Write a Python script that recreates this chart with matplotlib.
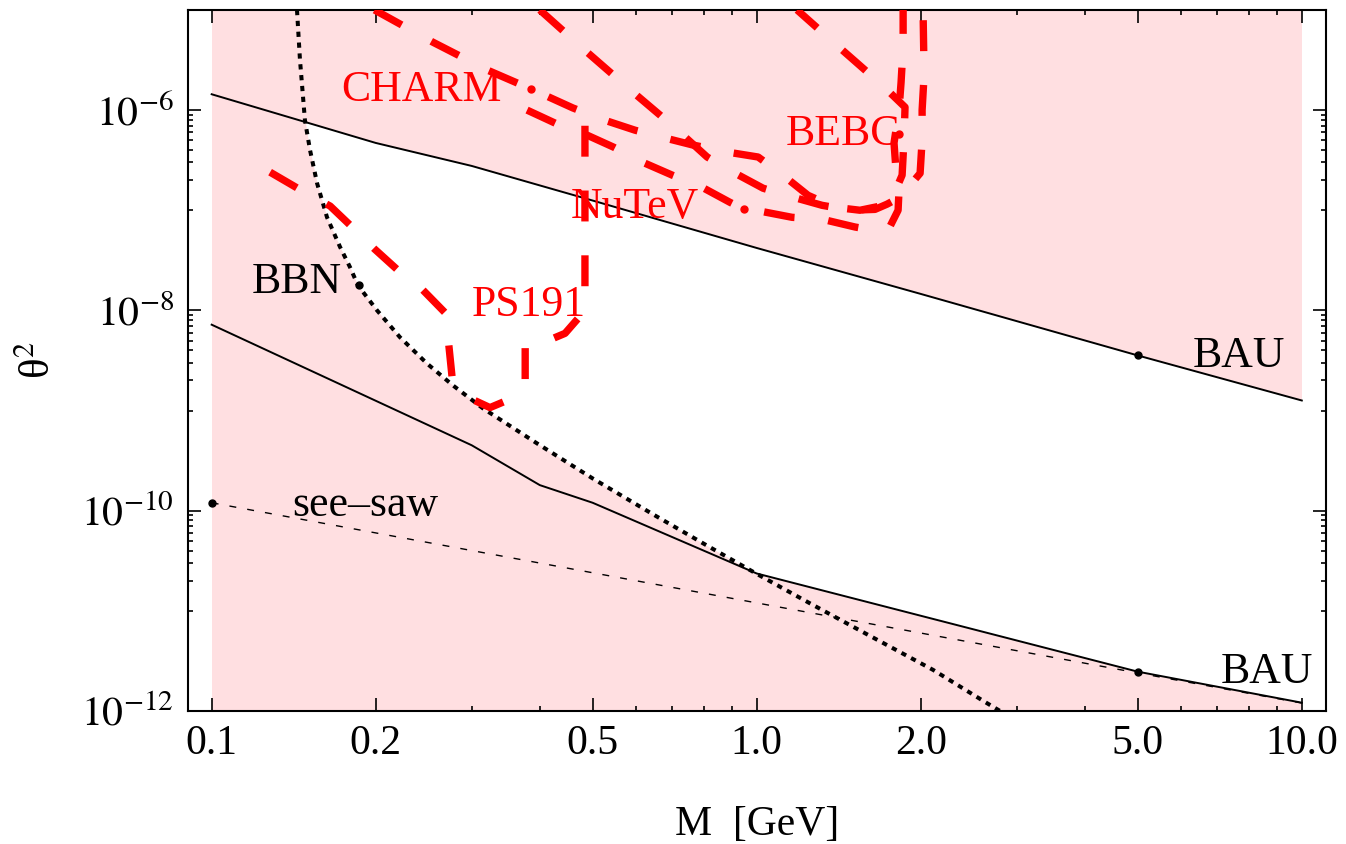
import matplotlib
matplotlib.use("Agg")
import matplotlib.pyplot as plt
import numpy as np
from matplotlib.ticker import FixedLocator, FixedFormatter, NullFormatter

plt.rcParams['font.family'] = ['Liberation Serif', 'DejaVu Serif']
plt.rcParams['mathtext.fontset'] = 'stix'

PINK = '#ffdfe1'
RED = '#ff0000'

# baryon asymmetry bounds (upper and lower branch)
bau_up_m = [0.1, 0.2, 0.3, 0.5, 1.0, 2.0, 5.0, 10.0]
bau_up_t = [1.44e-6, 4.7e-7, 2.77e-7, 1.25e-7, 4.2e-8, 1.46e-8, 3.55e-9, 1.26e-9]
bau_lo_m = [0.1, 0.3, 0.4, 0.5, 1.0, 5.0, 10.0]
bau_lo_t = [7.2e-9, 4.5e-10, 1.8e-10, 1.2e-10, 2.36e-11, 2.47e-12, 1.21e-12]

# see-saw line
seesaw_m = [0.1, 10.0]
seesaw_t = [1.2e-10, 1.2e-12]

# BBN bound
bbn_m = [0.1434, 0.1452, 0.1483, 0.1515, 0.1561, 0.1628, 0.1720, 0.1794, 0.1855,
         0.2011, 0.2215, 0.2483, 0.2772, 0.3147, 0.3953, 0.5, 0.643, 0.804,
         1.0, 1.248, 1.587, 2.107, 2.623, 2.84]
bbn_t = [1e-5, 3.2e-6, 7.9e-7, 4.0e-7, 1.86e-7, 8.5e-8, 4.3e-8, 2.7e-8, 1.78e-8,
         1.0e-8, 5.4e-9, 2.95e-9, 1.78e-9, 1.05e-9, 4.7e-10, 2.1e-10, 9.3e-11, 4.6e-11,
         2.34e-11, 1.2e-11, 5.9e-12, 2.57e-12, 1.23e-12, 9.5e-13]

# experimental limits
charm_m = [0.199, 0.254, 0.321, 0.386, 0.460, 0.527, 0.598, 0.685, 0.761, 0.886,
           1.006, 1.117, 1.242, 1.392, 1.547, 1.684, 1.779, 1.848, 1.864, 1.871,
           1.698, 1.528, 1.380, 1.186]
charm_t = [1e-5, 4.8e-6, 2.5e-6, 1.62e-6, 1.05e-6, 7.9e-7, 6.3e-7, 5.2e-7, 4.5e-7, 3.8e-7,
           3.4e-7, 2.24e-7, 1.41e-7, 1.07e-7, 1.0e-7, 1.10e-7, 1.38e-7, 2.24e-7, 5.4e-7, 1.07e-6,
           1.78e-6, 2.95e-6, 4.8e-6, 1e-5]

nutev_m = [0.379, 0.427, 0.484, 0.546, 0.619, 0.700, 0.787, 0.893, 0.948, 1.014,
           1.161, 1.323, 1.515, 1.671, 1.756, 1.817, 1.824, 1.801, 1.786, 1.824,
           1.840, 1.856, 1.856]
nutev_t = [1.0e-6, 7.4e-7, 5.75e-7, 4.27e-7, 3.0e-7, 2.24e-7, 1.74e-7, 1.20e-7, 1.02e-7, 9.8e-8,
           8.5e-8, 8.1e-8, 6.8e-8, 6.2e-8, 6.9e-8, 1.0e-7, 1.58e-7, 2.5e-7, 4.7e-7, 1.0e-6,
           1.9e-6, 4.3e-6, 1e-5]

bebc_m = [0.400, 0.488, 0.593, 0.665, 0.733, 0.811, 0.913, 1.027, 1.166, 1.318,
          1.483, 1.648, 1.734, 1.832, 1.994, 2.011, 2.011, 2.028, 2.019]
bebc_t = [1e-5, 3.8e-6, 1.51e-6, 8.9e-7, 5.6e-7, 3.4e-7, 2.34e-7, 1.66e-7, 1.35e-7, 1.12e-7,
          1.0e-7, 1.02e-7, 1.15e-7, 1.35e-7, 2.34e-7, 5.0e-7, 1.0e-6, 2.24e-6, 1e-5]

ps191_m = [0.128, 0.146, 0.165, 0.181, 0.199, 0.220, 0.244, 0.269, 0.272, 0.276,
           0.300, 0.324, 0.348, 0.376, 0.376, 0.381, 0.414, 0.445, 0.470, 0.484, 0.484]
ps191_t = [2.4e-7, 1.58e-7, 1.10e-7, 6.8e-8, 4.1e-8, 2.5e-8, 1.6e-8, 9.3e-9, 4.8e-9, 2.2e-9,
           1.3e-9, 1.07e-9, 1.26e-9, 1.8e-9, 4.2e-9, 4.9e-9, 5.0e-9, 5.9e-9, 8.3e-9, 1.4e-8, 1.2e-6]

# labels: text, position, anchor dot, colour
labels = [
    ('CHARM', 0.243, 1.58e-6, 0.3855, 1.62e-6, RED),
    ('NuTeV', 0.598, 1.07e-7, 0.948, 1.02e-7, RED),
    ('BEBC', 1.44, 5.75e-7, 1.824, 5.75e-7, RED),
    ('PS191', 0.382, 1.12e-8, None, None, RED),
    ('BBN', 0.1434, 1.9e-8, 0.1864, 1.78e-8, 'black'),
    ('see\u2013saw', 0.191, 1.15e-10, 0.1, 1.2e-10, 'black'),
    ('BAU', 7.65, 3.47e-9, 5.0, 3.55e-9, 'black'),
    ('BAU', 8.64, 2.45e-12, 5.0, 2.47e-12, 'black'),
]

x_major = [0.1, 0.2, 0.5, 1.0, 2.0, 5.0, 10.0]
x_major_labels = ['0.1', '0.2', '0.5', '1.0', '2.0', '5.0', '10.0']
x_minor = [0.3, 0.4, 0.6, 0.7, 0.8, 0.9, 3, 4, 6, 7, 8, 9]
y_major = [1e-12, 1e-10, 1e-8, 1e-6]
y_major_labels = ['$10^{-12}$', '$10^{-10}$', '$10^{-8}$', '$10^{-6}$']
y_minor = [k * 10.0 ** n for n in (-11, -9, -7) for k in range(1, 10)]

fig = plt.figure(figsize=(13.46, 8.44), dpi=100)
ax = fig.add_axes([0.1397, 0.1576, 0.8455, 0.8306])
ax.set_xscale('log')
ax.set_yscale('log')
ax.set_xlim(0.0905, 11.08)
ax.set_ylim(1e-12, 1e-5)

# shaded (excluded) area with the allowed window cut out in white
ax.fill_between([0.1, 10.0], 1e-12, 1e-5, color=PINK, lw=0, zorder=0)
grid = np.logspace(-1, 1, 2000)
lg = np.log10(grid)
up = 10 ** np.interp(lg, np.log10(bau_up_m), np.log10(bau_up_t))
lo_bau = 10 ** np.interp(lg, np.log10(bau_lo_m), np.log10(bau_lo_t))
lo_bbn = 10 ** np.interp(lg, np.log10(bbn_m), np.log10(bbn_t), left=0.0)
lo = np.maximum(lo_bau, lo_bbn)
ax.fill_between(grid, lo, up, where=up > lo, color='white', lw=0, zorder=1,
                interpolate=True)

ax.plot(bau_up_m, bau_up_t, color='black', lw=1.4, zorder=3)
ax.plot(bau_lo_m, bau_lo_t, color='black', lw=1.4, zorder=3)
ax.plot(seesaw_m, seesaw_t, color='black', lw=1.0, ls=(0, (5, 8)), zorder=3)
ax.plot(bbn_m, bbn_t, color='black', lw=2.9, ls=(0, (1.3, 1.4)), zorder=3)

for m, t in [(charm_m, charm_t), (nutev_m, nutev_t), (bebc_m, bebc_t), (ps191_m, ps191_t)]:
    ax.plot(m, t, color=RED, lw=5.3, ls=(0, (4.2, 4.6)), zorder=4)

for text, tx, ty, dx, dy, col in labels:
    ax.text(tx, ty, text, color=col, fontsize=31.5, ha='center', va='center', zorder=5)
    if dx is not None:
        ax.plot(dx, dy, 'o', color=col, ms=5, zorder=5)

ax.xaxis.set_major_locator(FixedLocator(x_major))
ax.xaxis.set_major_formatter(FixedFormatter(x_major_labels))
ax.xaxis.set_minor_locator(FixedLocator(x_minor))
ax.xaxis.set_minor_formatter(NullFormatter())
ax.yaxis.set_major_locator(FixedLocator(y_major))
ax.yaxis.set_major_formatter(FixedFormatter(y_major_labels))
ax.yaxis.set_minor_locator(FixedLocator(y_minor))
ax.yaxis.set_minor_formatter(NullFormatter())

ax.tick_params(which='both', direction='in', top=True, right=True, width=1.2,
               labelsize=30)
ax.tick_params(which='major', length=9.5)
ax.tick_params(which='minor', length=3.5)
ax.tick_params(axis='x', pad=10)
ax.tick_params(axis='y', pad=10)
for s in ax.spines.values():
    s.set_linewidth(1.5)

ax.set_xlabel('M  [GeV]', fontsize=30, labelpad=30)
ax.set_ylabel('\u03b8$^{2}$', fontsize=31, labelpad=16)

fig.savefig('out.png', dpi=100)
